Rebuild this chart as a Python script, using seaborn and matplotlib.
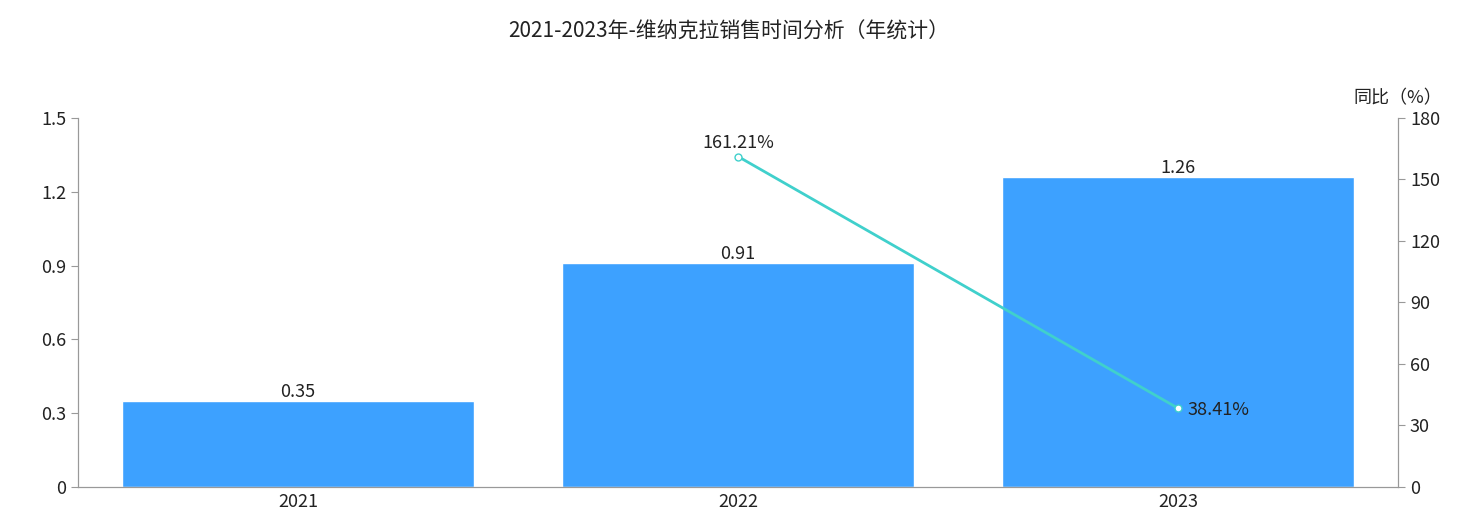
import matplotlib
matplotlib.use("Agg")
import matplotlib.pyplot as plt
import seaborn as sb
import pandas as pd

years = ["2021", "2022", "2023"]
sales = [0.35, 0.91, 1.26]
yoy_years = ["2022", "2023"]
yoy = [161.21, 38.41]

sb.set_style("white")
plt.rcParams["font.family"] = ["Noto Sans CJK SC", "DejaVu Sans"]

df = pd.DataFrame({"year": years, "sales": sales})

fig = plt.figure(figsize=(14.58, 5.13), dpi=100)
ax = fig.add_axes([0.0535, 0.0507, 0.9054, 0.7193])

sb.barplot(data=df, x="year", y="sales", color="#3da1ff", saturation=1,
           width=0.8, ax=ax)
for i, v in enumerate(sales):
    ax.text(i, v, f"{v:.2f}", ha="center", va="bottom", fontsize=13, color="#222222")

ax.set_ylim(0, 1.5)
ax.set_yticks([0, 0.3, 0.6, 0.9, 1.2, 1.5])
ax.set_yticklabels(["0", "0.3", "0.6", "0.9", "1.2", "1.5"])
ax.set_xlim(-0.5, 2.5)
ax.set_xlabel("")
ax.set_ylabel("")

# axa secundara pentru procente
ax2 = ax.twinx()
xpos = [years.index(y) for y in yoy_years]
ax2.plot(xpos, yoy, color="#40d0cc", linewidth=2, marker="o", markersize=5,
         markerfacecolor="white", markeredgecolor="#40d0cc", zorder=5)
ax2.text(xpos[0], yoy[0] + 2, f"{yoy[0]:.2f}%", ha="center", va="bottom",
         fontsize=13, color="#222222")
ax2.text(xpos[1] + 0.022, yoy[1] - 1, f"{yoy[1]:.2f}%", ha="left", va="center",
         fontsize=13, color="#222222")
ax2.set_ylim(0, 180)
ax2.set_yticks([0, 30, 60, 90, 120, 150, 180])
ax2.text(1.0, 1.03, "同比（%）", transform=ax2.transAxes, ha="center",
         va="bottom", fontsize=13, color="#222222")

for a in (ax, ax2):
    a.spines["top"].set_visible(False)
    for s in ["left", "right", "bottom"]:
        a.spines[s].set_color("#999999")
    a.tick_params(axis="y", length=5, color="#999999", labelsize=13,
                  labelcolor="#222222", direction="out")
ax.tick_params(axis="x", length=0, labelsize=13, labelcolor="#222222", pad=4)
ax.set_xticks([0.5, 1.5], minor=True)
ax.tick_params(axis="x", which="minor", length=5, color="#999999")

fig.suptitle("2021-2023年-维纳克拉销售时间分析（年统计）", y=0.96, fontsize=15,
             color="#222222")

fig.savefig("out.png", dpi=100)
